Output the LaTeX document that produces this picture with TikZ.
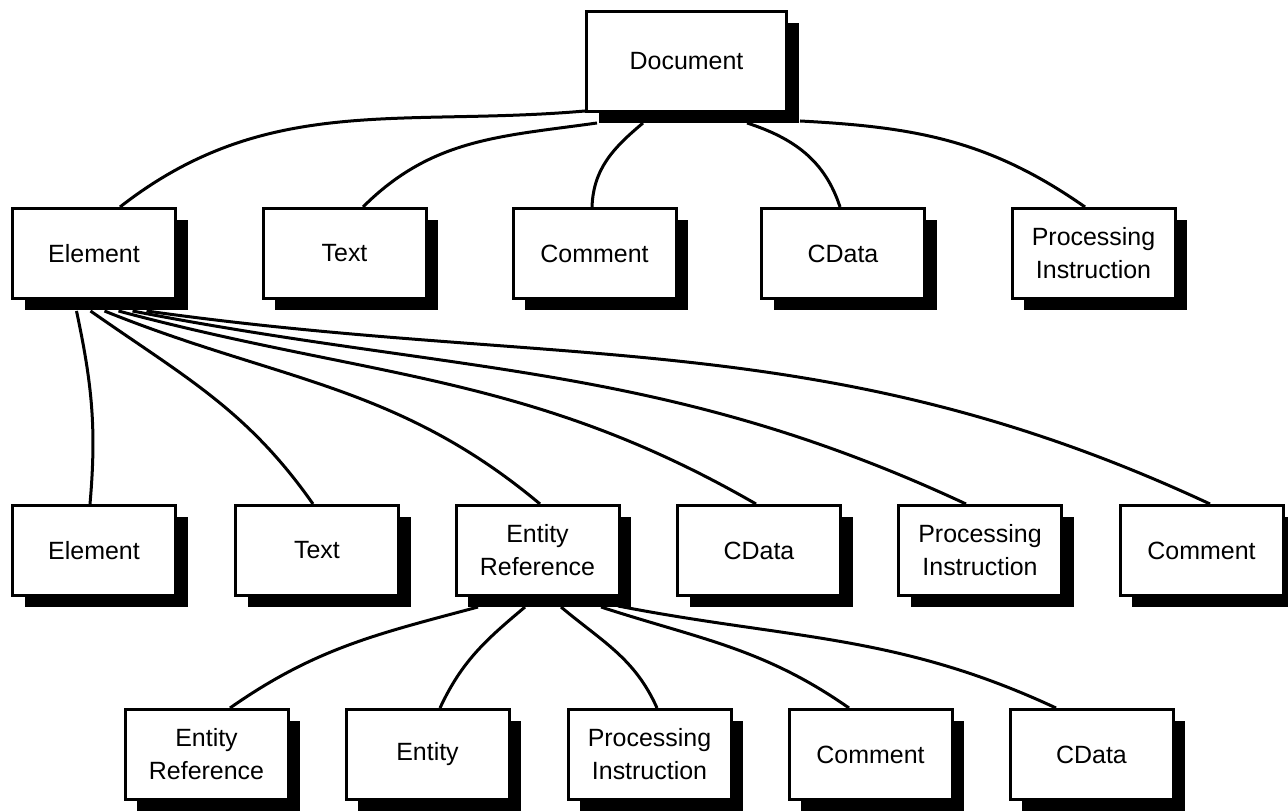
\documentclass[tikz,border=0pt]{standalone}
\usepackage{fontspec}
\setmainfont{Liberation Sans}
\usepackage{tikz}
\usetikzlibrary{shadows}

\begin{document}
\begin{tikzpicture}[
    boxWidth/.style={minimum width=3.26cm},
    boxHeight/.style={minimum height=1.8cm},
    docWidth/.style={minimum width=4cm},
    docHeight/.style={minimum height=2cm},
    box/.style={draw, fill=white, line width=0.06cm, inner sep=0pt,
        drop shadow={shadow xshift=0.24cm, shadow yshift=-0.24cm, fill=black, opacity=1}},
    link/.style={line width=0.06cm},
    every node/.style={
        text centered,
        align=center,
        font=\fontsize{14.2}{18.8}\selectfont,
        }
        ]
    \useasboundingbox (0, 0) rectangle (25.76, 16.2);

    \node[box, docWidth, docHeight] (document) at (13.73, 14.97) {Document};

    \node[box, boxWidth, boxHeight] (element) at (1.88, 11.13) {Element};
    \node[box, boxWidth, boxHeight] (text) at (6.89, 11.13) {Text};
    \node[box, boxWidth, boxHeight] (comment) at (11.89, 11.13) {Comment};
    \node[box, boxWidth, boxHeight] (cdata) at (16.86, 11.13) {CData};
    \node[box, boxWidth, boxHeight] (pi) at (21.87, 11.13) {Processing\\Instruction};

    \node[box, boxWidth, boxHeight] (element2) at (1.88, 5.19) {Element};
    \node[box, boxWidth, boxHeight] (text2) at (6.34, 5.19) {Text};
    \node[box, boxWidth, boxHeight] (entityRef2) at (10.75, 5.19) {Entity\\Reference};
    \node[box, boxWidth, boxHeight] (cdata2) at (15.18, 5.19) {CData};
    \node[box, boxWidth, boxHeight] (pi2) at (19.6, 5.19) {Processing\\Instruction};
    \node[box, boxWidth, boxHeight] (comment2) at (24.03, 5.19) {Comment};

    \node[box, boxWidth, boxHeight] (entityRef3) at (4.13, 1.11) {Entity\\Reference};
    \node[box, boxWidth, boxHeight] (entity3) at (8.55, 1.11) {Entity};
    \node[box, boxWidth, boxHeight] (pi3) at (12.99, 1.11) {Processing\\Instruction};
    \node[box, boxWidth, boxHeight] (comment3) at (17.41, 1.11) {Comment};
    \node[box, boxWidth, boxHeight] (cdata3) at (21.83, 1.11) {CData};

    \draw[link] ([yshift=0.04cm]document.south west) to[out=185, in=38] ([xshift=0.52cm]element.north);
    \draw[link] ([shift={(0.24, -0.2)}]document.south west) to[out=188, in=45] ([xshift=0.37cm]text.north);
    \draw[link] ([shift={(1.16, -0.2)}]document.south west) to[out=220, in=88] ([xshift=-0.05cm]comment.north);
    \draw[link] ([shift={(3.24, -0.2)}]document.south west) to[out=-18, in=108] ([xshift=-0.06cm]cdata.north);
    \draw[link] ([shift={(4.3, -0.16)}]document.south west) to[out=-3, in=145] ([xshift=-0.17cm]pi.north);

    \draw[link] ([shift={(1.31, -0.22)}]element.south west) to[out=-78, in=85] ([xshift=-0.08cm]element2.north);
    \draw[link] ([shift={(1.59, -0.22)}]element.south west) to[out=-35, in=125] ([xshift=-0.08cm]text2.north);
    \draw[link] ([shift={(1.87, -0.22)}]element.south west) to[out=-22, in=140] ([xshift=0.05cm]entityRef2.north);
    \draw[link] ([shift={(2.15, -0.22)}]element.south west) to[out=-15, in=150] ([xshift=-0.06cm]cdata2.north);
    \draw[link] ([shift={(2.43, -0.22)}]element.south west) to[out=-11, in=155] ([xshift=-0.28cm]pi2.north);
    \draw[link] ([shift={(2.71, -0.22)}]element.south west) to[out=-8, in=155] ([xshift=0.17cm]comment2.north);

    \draw[link] ([shift={(0.47, -0.2)}]entityRef2.south west) to[out=195, in=35] ([xshift=0.47cm]entityRef3.north);
    \draw[link] ([shift={(1.41, -0.2)}]entityRef2.south west) to[out=220, in=65] ([xshift=0.25cm]entity3.north);
    \draw[link] ([shift={(2.13, -0.2)}]entityRef2.south west) to[out=-40, in=114] ([xshift=0.15cm]pi3.north);
    \draw[link] ([shift={(2.93, -0.2)}]entityRef2.south west) to[out=-18, in=145] ([xshift=-0.43cm]comment3.north);
    \draw[link] ([shift={(3.27, -0.18)}]entityRef2.south west) to[out=-11, in=155] ([xshift=-0.71cm]cdata3.north);
\end{tikzpicture}
\end{document}
